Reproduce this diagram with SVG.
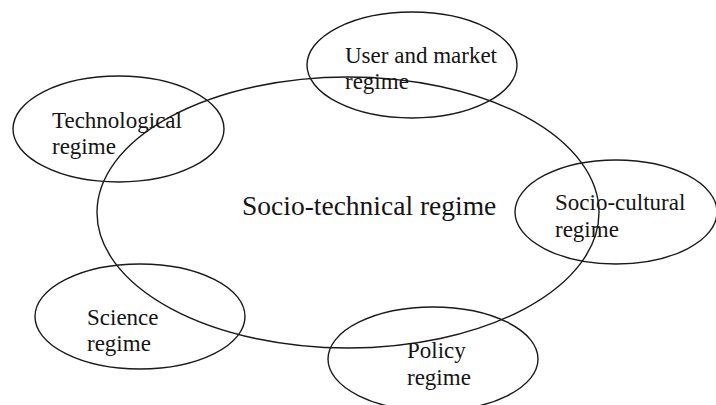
<svg xmlns="http://www.w3.org/2000/svg" width="716" height="405" viewBox="0 0 716 405">
  <style>
    .shape { fill: none; stroke: #1a1a1a; stroke-width: 1.4; }
    .label { font-family: "Liberation Serif", "Times New Roman", serif; font-size: 23px; fill: #141414; }
    .main  { font-family: "Liberation Serif", "Times New Roman", serif; font-size: 27.5px; fill: #141414; }
  </style>
  <rect width="716" height="405" fill="#ffffff"/>

  <g id="socio-technical-regime">
    <ellipse class="shape" cx="348" cy="212.5" rx="251" ry="135.5"/>
    <text class="main" x="242" y="215">Socio-technical regime</text>
  </g>

  <g id="technological-regime">
    <ellipse class="shape" cx="118.5" cy="129" rx="105.5" ry="53"/>
    <text class="label" x="52" y="128">Technological</text>
    <text class="label" x="52" y="154">regime</text>
  </g>

  <g id="user-market-regime">
    <ellipse class="shape" cx="412" cy="65" rx="105" ry="53"/>
    <text class="label" x="345" y="63">User and market</text>
    <text class="label" x="345" y="89">regime</text>
  </g>

  <g id="socio-cultural-regime">
    <ellipse class="shape" cx="616" cy="212" rx="101" ry="52"/>
    <text class="label" x="555" y="210">Socio-cultural</text>
    <text class="label" x="555" y="237">regime</text>
  </g>

  <g id="science-regime">
    <ellipse class="shape" cx="140" cy="316.5" rx="105" ry="52.5"/>
    <text class="label" x="87" y="325">Science</text>
    <text class="label" x="87" y="351">regime</text>
  </g>

  <g id="policy-regime">
    <ellipse class="shape" cx="433" cy="359" rx="105" ry="52"/>
    <text class="label" x="407" y="358">Policy</text>
    <text class="label" x="407" y="385">regime</text>
  </g>

  <g id="connectors"></g>
</svg>
